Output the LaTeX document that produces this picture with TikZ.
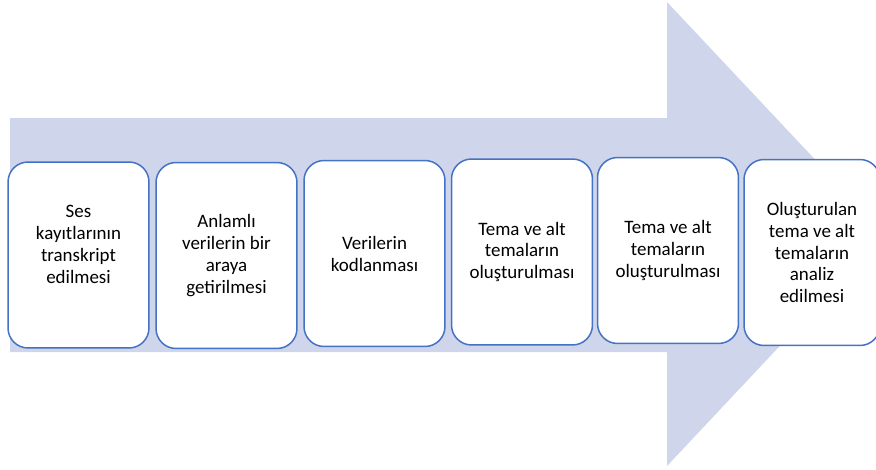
\documentclass[tikz,border=0pt]{standalone}
\usepackage{fontspec}
\setmainfont{Carlito}
\definecolor{arrowfill}{HTML}{CFD5EA}
\definecolor{boxline}{HTML}{4472C4}
\begin{document}
\begin{tikzpicture}[x=0.02cm, y=-0.02cm,
		adim/.style={draw=boxline, line width=0.85pt, fill=white, rounded corners=0.4cm,
			minimum width=2.82cm, minimum height=3.72cm, align=center,
			font=\fontsize{10.8}{12.5}\selectfont}]
		\useasboundingbox (0,0) rectangle (876,470);
		\clip (0,0) rectangle (876,470);
		\fill[arrowfill] (10,118) -- (667,118) -- (667,2) -- (885,234) -- (667,466) -- (667,352) -- (10,352) -- cycle;
		
		\node[adim] (ses) at (78.5,255) {Ses\\kayıtlarının\\transkript\\edilmesi\\\mbox{}};
		\node[adim] (anlam) at (226.5,255.5) {Anlamlı\\verilerin bir\\araya\\getirilmesi};
		\node[adim] (kod) at (374.5,253.5) {Verilerin\\kodlanması};
		\node[adim] (tema) at (522,252) {Tema ve alt\\temaların\\oluşturulması};
		\node[adim] (tema2) at (668,250.5) {Tema ve alt\\temaların\\oluşturulması};
		\node[adim, minimum width=2.72cm] (analiz) at (812,252.5) {Oluşturulan\\tema ve alt\\temaların\\analiz\\edilmesi};
		
	\end{tikzpicture}
\end{document}
